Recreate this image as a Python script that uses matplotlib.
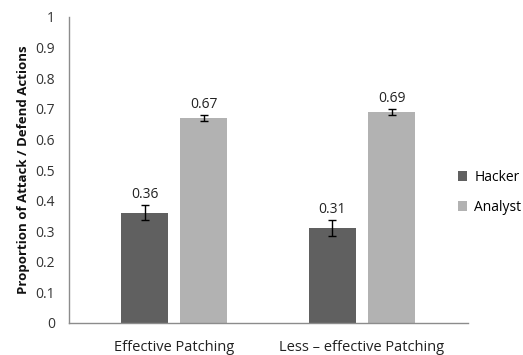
import matplotlib
matplotlib.use("Agg")
import matplotlib.pyplot as plt
import numpy as np

categories = ["Effective Patching", "Less – effective Patching"]
series = ["Hacker", "Analyst"]
hacker = [0.36, 0.31]
analyst = [0.67, 0.69]
hacker_err = [0.025, 0.025]
analyst_err = [0.010, 0.010]
yticks = [0, 0.1, 0.2, 0.3, 0.4, 0.5, 0.6, 0.7, 0.8, 0.9, 1]
ytick_labels = ["0", "0.1", "0.2", "0.3", "0.4", "0.5", "0.6", "0.7", "0.8", "0.9", "1"]

plt.rcParams['font.family'] = ['Open Sans', 'DejaVu Sans']

fig = plt.figure(figsize=(5.23, 3.55), dpi=100)
ax = fig.add_axes([69/523, 32/355, (468-69)/523, (323-17)/355])

x = np.arange(len(categories))
w = 0.25
off = 0.157
colors = ["#606060", "#b2b2b2"]
vals = [hacker, analyst]
errs = [hacker_err, analyst_err]
offs = [-off, off]
for i in range(2):
    ax.bar(x + offs[i], vals[i], w, color=colors[i], label=series[i], zorder=2)
    ax.errorbar(x + offs[i], vals[i], yerr=errs[i], fmt='none', ecolor='black',
                elinewidth=1, capsize=3, capthick=1, zorder=3)
    for xi, v, e in zip(x + offs[i], vals[i], errs[i]):
        ax.text(xi, v + e + 0.01, f"{v:.2f}", ha='center', va='bottom', fontsize=10, color='#222222')

ax.set_xlim(-0.559, 1.564)
ax.set_ylim(0, 1)
ax.set_yticks(yticks)
ax.set_yticklabels(ytick_labels, fontsize=10, color='#333333')
ax.set_xticks(x)
ax.set_xticklabels(categories, fontsize=10.5, color='#222222')
ax.tick_params(axis='both', length=0)
ax.tick_params(axis='y', pad=10)
ax.tick_params(axis='x', pad=12)
for s in ['top', 'right']:
    ax.spines[s].set_visible(False)
for s in ['left', 'bottom']:
    ax.spines[s].set_color('#8c8c8c')
    ax.spines[s].set_linewidth(1)

ax.set_ylabel("Proportion of Attack / Defend Actions", fontsize=9.5, fontweight='bold', color='#111111', labelpad=4)

fig.legend(loc='upper left', bbox_to_anchor=(445/523, 1 - 157/355), frameon=False,
           fontsize=10, handlelength=0.7, handleheight=0.7, handletextpad=0.5,
           labelspacing=1.1)

fig.savefig("out.png", dpi=100)
